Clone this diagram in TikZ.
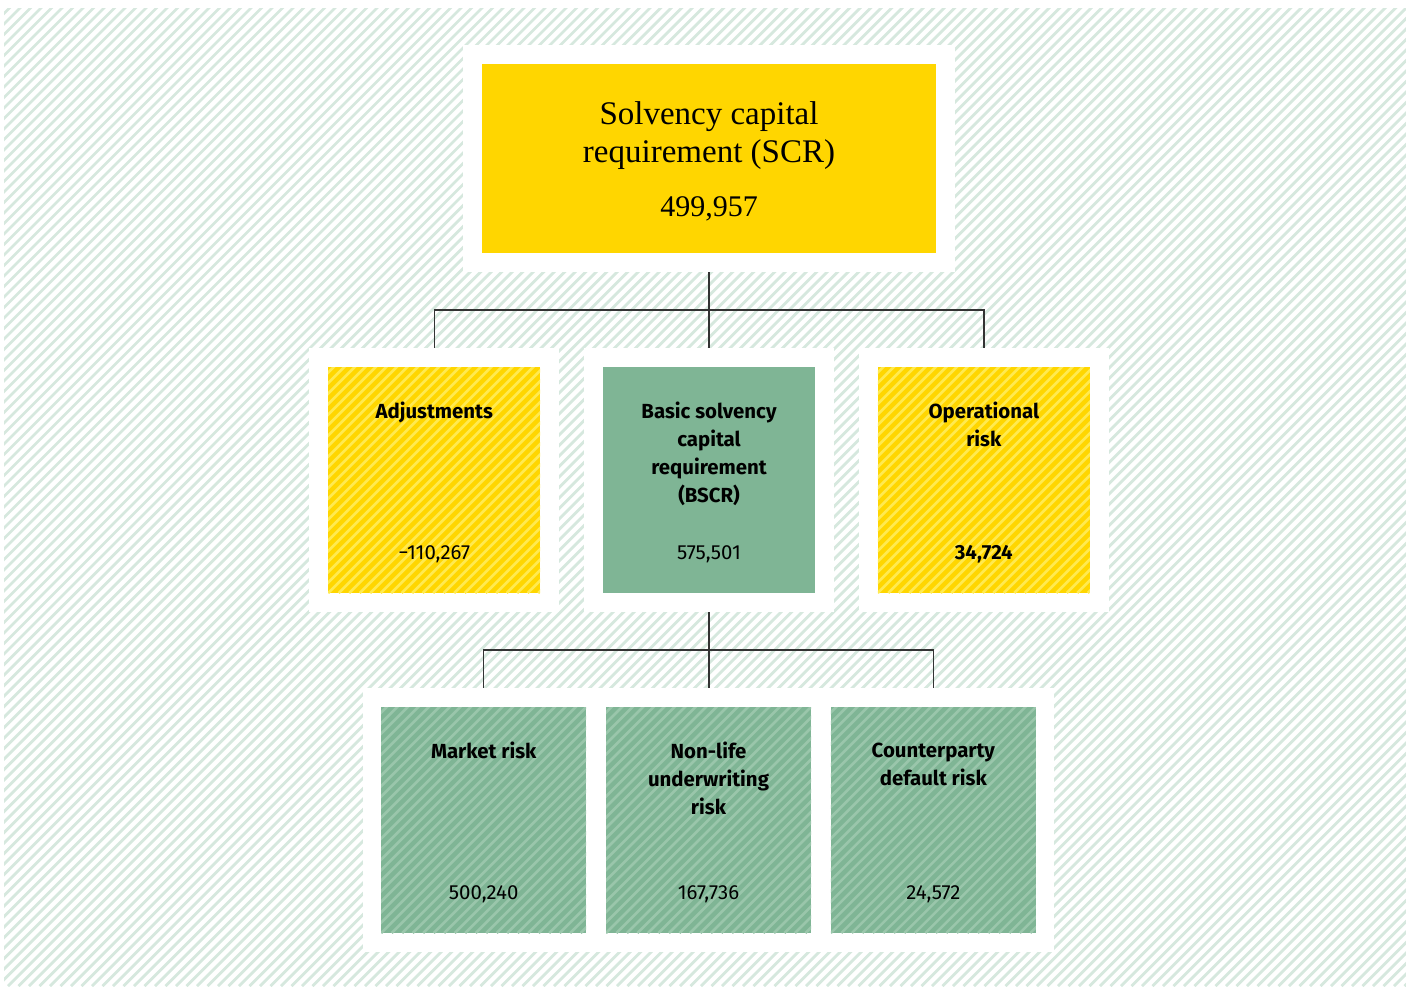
\documentclass[tikz,border=0pt]{standalone}
\usepackage{fontspec}
\setmainfont{Fira Sans}
\newfontfamily\titlefont{Liberation Serif}
\usetikzlibrary{positioning}

\definecolor{scryellow}{RGB}{255,214,0}
\definecolor{scrstripe}{RGB}{255,234,80}
\definecolor{scrgreen}{RGB}{127,181,149}
\definecolor{greenstripe}{RGB}{154,198,171}
\definecolor{bgstripe}{RGB}{214,232,222}

\begin{document}
\begin{tikzpicture}[x=0.5pt,y=-0.5pt,
	whiteframe/.style={fill=white,inner sep=0pt},
	box/.style={inner sep=0pt,minimum width=106pt,minimum height=113pt},
	yellowbox/.style={box,fill=scryellow},
	greenbox/.style={box,fill=scrgreen},
	striped/.style={path picture={
		\foreach \k in {-23,...,22}
			\draw[#1,line width=1.3pt] ([xshift=\k*5.25pt]path picture bounding box.south west) -- ++(130pt,130pt);
	}},
	lbl/.style={inner sep=0pt,align=center,
		font=\fontsize{10.2pt}{14pt}\selectfont\bfseries},
	num/.style={inner sep=0pt,font=\fontsize{10.2pt}{14pt}\selectfont},
	conn/.style={draw=black!80,line width=0.7pt},
	bgline/.style={draw=bgstripe,line width=1.4pt}]

\useasboundingbox (0,0) rectangle (1406,987);

% hatched background
\begin{scope}
	\clip (4,8) rectangle (1406,986);
	\foreach \i in {-1000,-989.5,...,1406}
		\draw[bgline] (\i,986) -- ++(1000,-1000);
\end{scope}

% Frames
\node[whiteframe,
	minimum width=246pt,
	minimum height=113.5pt] (scrFrame) at (709,158.5) {};

\node[whiteframe,
	minimum width=125pt,
	minimum height=132pt] (bscrFrame) at (709,480) {};

\node[whiteframe,
	minimum width=125pt,
	minimum height=132pt,
	left=12pt of bscrFrame] (adjFrame) {};

\node[whiteframe,
	minimum width=125pt,
	minimum height=132pt,
	right=12pt of bscrFrame] (oprFrame) {};

\node[whiteframe,
	minimum width=345.5pt,
	minimum height=132pt] (lowFrame) at (708.5,820) {};

% Boxes
\node[box,
	fill=scryellow,
	minimum width=227pt,
	minimum height=94.5pt] (scrBox) at (scrFrame) {};

\node[yellowbox,
	striped=scrstripe] (adjBox) at (adjFrame) {};

\node[greenbox] (bscrBox) at (bscrFrame) {};

\node[yellowbox,
	striped=scrstripe] (oprBox) at (oprFrame) {};

\node[greenbox,
	striped=greenstripe,
	minimum width=102.5pt] (nlBox) at (lowFrame) {};

\node[greenbox,
	striped=greenstripe,
	minimum width=102.5pt,
	left=9.5pt of nlBox] (mktBox) {};

\node[greenbox,
	striped=greenstripe,
	minimum width=102.5pt,
	right=9.5pt of nlBox] (cptBox) {};

% Texts
\node[inner sep=0pt,
	align=center,
	font=\titlefont\fontsize{16.5pt}{19pt}\selectfont,
	below=19pt of scrBox.north] (scrText) {Solvency capital\\requirement (SCR)};
\node[inner sep=0pt,
	font=\titlefont\fontsize{15pt}{19pt}\selectfont,
	above=18.5pt of scrBox.south,
	anchor=base] (scrNum) {499,957};

\node[lbl, below=17.5pt of adjBox.north] (adjText) {Adjustments};
\node[num, above=17pt of adjBox.south, anchor=base] (adjNum) {−110,267};

\node[lbl, below=17.5pt of bscrBox.north] (bscrText) {Basic solvency\\capital\\requirement\\(BSCR)};
\node[num, above=17pt of bscrBox.south, anchor=base] (bscrNum) {575,501};

\node[lbl, below=17.5pt of oprBox.north] (oprText) {Operational\\risk};
\node[num, above=17pt of oprBox.south, anchor=base,
	font=\fontsize{10.2pt}{14pt}\selectfont\bfseries] (oprNum) {34,724};

\node[lbl, below=17.5pt of mktBox.north] (mktText) {Market risk};
\node[num, above=17pt of mktBox.south, anchor=base] (mktNum) {500,240};

\node[lbl, below=17.5pt of nlBox.north] (nlText) {Non-life\\underwriting\\risk};
\node[num, above=17pt of nlBox.south, anchor=base] (nlNum) {167,736};

\node[lbl, below=18pt of cptBox.north] (cptText) {Counterparty\\default risk};
\node[num, above=17pt of cptBox.south, anchor=base] (cptNum) {24,572};

% connections
\coordinate (topJoin) at (709,310);
\coordinate (lowJoin) at (708.5,650);

\draw[conn] (scrFrame.south) -- (bscrFrame.north);
\draw[conn] (adjFrame.north) |- (topJoin) -| (oprFrame.north);

\draw[conn] (bscrFrame.south) -- (bscrFrame.south |- lowFrame.north);
\draw[conn] (mktBox |- lowFrame.north) |- (lowJoin) -| (cptBox |- lowFrame.north);

\end{tikzpicture}
\end{document}
